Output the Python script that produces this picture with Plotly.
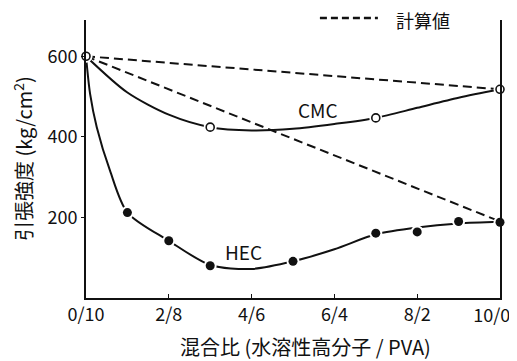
import plotly.graph_objects as go

# ---- data ----
ratio_ticks = [0, 2, 4, 6, 8, 10]
ratio_labels = ["0/10", "2/8", "4/6", "6/4", "8/2", "10/0"]
y_ticks = [200, 400, 600]

cmc_x = [0, 3, 7, 10]
cmc_y = [600, 424, 447, 518]
hec_x = [1, 2, 3, 5, 7, 8, 9, 10]
hec_y = [212, 142, 80, 91, 161, 164, 190, 188]

# hand-drawn fitted curves
cmc_curve_x = [0, 1, 2, 3, 4, 5, 6, 7, 8, 9, 10]
cmc_curve_y = [600, 510, 455, 424, 416, 420, 432, 447, 472, 497, 518]
hec_curve_x = [0, 0.1, 0.26, 0.58, 1, 2, 3, 4, 5, 6, 7, 8, 9, 10]
hec_curve_y = [600, 506, 424, 316, 212, 142, 82, 72, 91, 121, 158, 175, 185, 189]

# calculated values (dashed)
calc_x = [0, 10]
calc_cmc_y = [600, 518]
calc_hec_y = [600, 190]

FONT = "Noto Sans CJK JP, DejaVu Sans, sans-serif"
BLACK = "#111111"

fig = go.Figure()

for yy in (calc_cmc_y, calc_hec_y):
    fig.add_trace(go.Scatter(x=calc_x, y=yy, mode="lines",
                             line=dict(color=BLACK, width=2, dash="9px,5px"),
                             hoverinfo="skip", cliponaxis=False))

for cx, cy in ((cmc_curve_x, cmc_curve_y), (hec_curve_x, hec_curve_y)):
    fig.add_trace(go.Scatter(x=cx, y=cy, mode="lines",
                             line=dict(color=BLACK, width=2, shape="spline", smoothing=0.8),
                             hoverinfo="skip", cliponaxis=False))

# white halos to emulate the gaps around markers
for mx, my in ((cmc_x, cmc_y), (hec_x, hec_y)):
    fig.add_trace(go.Scatter(x=mx, y=my, mode="markers",
                             marker=dict(color="white", size=13, line=dict(width=0)),
                             hoverinfo="skip", cliponaxis=False))

fig.add_trace(go.Scatter(x=cmc_x, y=cmc_y, mode="markers", name="CMC",
                         marker=dict(color="white", size=8, line=dict(color=BLACK, width=1.6)),
                         cliponaxis=False))
fig.add_trace(go.Scatter(x=hec_x, y=hec_y, mode="markers", name="HEC",
                         marker=dict(color=BLACK, size=9, line=dict(width=0)),
                         cliponaxis=False))

# invisible trace that carries the overlay axis used for the last (edge) tick label
fig.add_trace(go.Scatter(x=[ratio_ticks[-1]], y=[cmc_y[-1]], xaxis="x2", mode="markers",
                         marker=dict(opacity=0), hoverinfo="skip", showlegend=False))

fig.add_annotation(x=5.6, y=468, text="CMC", showarrow=False,
                   xanchor="center", yanchor="middle",
                   font=dict(family=FONT, size=19, color=BLACK))
fig.add_annotation(x=3.8, y=115, text="HEC", showarrow=False,
                   xanchor="center", yanchor="middle",
                   font=dict(family=FONT, size=19, color=BLACK))

# legend for calculated value
fig.add_shape(type="line", xref="paper", yref="paper", x0=0.565, x1=0.705, y0=1.007, y1=1.007,
              line=dict(color=BLACK, width=2.5, dash="7px,4px"))
fig.add_annotation(xref="paper", yref="paper", x=0.814, y=0.9995, text="計算値", showarrow=False,
                   xanchor="center", yanchor="middle", borderpad=0,
                   font=dict(family=FONT, size=18, color=BLACK))

# axis titles
fig.add_annotation(xref="paper", yref="paper", x=-0.152, y=0.5, textangle=-90,
                   text="引張強度 (kg/cm<sup>2</sup>)", showarrow=False,
                   xanchor="center", yanchor="middle", borderpad=0,
                   font=dict(family=FONT, size=20, color=BLACK))
fig.add_annotation(xref="paper", yref="paper", x=0.529, y=-0.173,
                   text="混合比 (水溶性高分子 / PVA)", showarrow=False,
                   xanchor="center", yanchor="middle", borderpad=0,
                   font=dict(family=FONT, size=20, color=BLACK))

# page body has an 8px margin; size the figure so the plot area lands where the reference has it
fig.update_layout(
    width=509, height=353,
    margin=dict(l=78, r=17, t=12, b=63),
    paper_bgcolor="white", plot_bgcolor="white",
    showlegend=False,
    font=dict(family=FONT, color=BLACK),
    xaxis=dict(range=[0, 10], tickvals=ratio_ticks[:-1],
               ticktext=ratio_labels[:-1],
               showgrid=False, zeroline=False, showline=True, linecolor=BLACK, linewidth=1.5,
               ticks="inside", ticklen=4, tickcolor=BLACK, mirror=False,
               automargin=False,
               tickfont=dict(family=FONT, size=18, color=BLACK)),
    # overlay axis: only the last label, nudged left as in the reference so it stays on the page
    xaxis2=dict(range=[0, 10], overlaying="x", anchor="y", side="bottom",
                tickvals=[ratio_ticks[-1] - 0.2], ticktext=[ratio_labels[-1]],
                showgrid=False, zeroline=False, showline=False, ticks="",
                automargin=False, ticklabeloverflow="allow", ticklabelstandoff=5,
                tickfont=dict(family=FONT, size=18, color=BLACK)),
    yaxis=dict(range=[0, 690], tickvals=y_ticks, automargin=False,
               showgrid=False, zeroline=False, showline=True, linecolor=BLACK, linewidth=2,
               ticks="outside", ticklen=3, tickcolor=BLACK, mirror=True,
               tickfont=dict(family=FONT, size=18, color=BLACK)),
)

fig.write_html("out.html")
